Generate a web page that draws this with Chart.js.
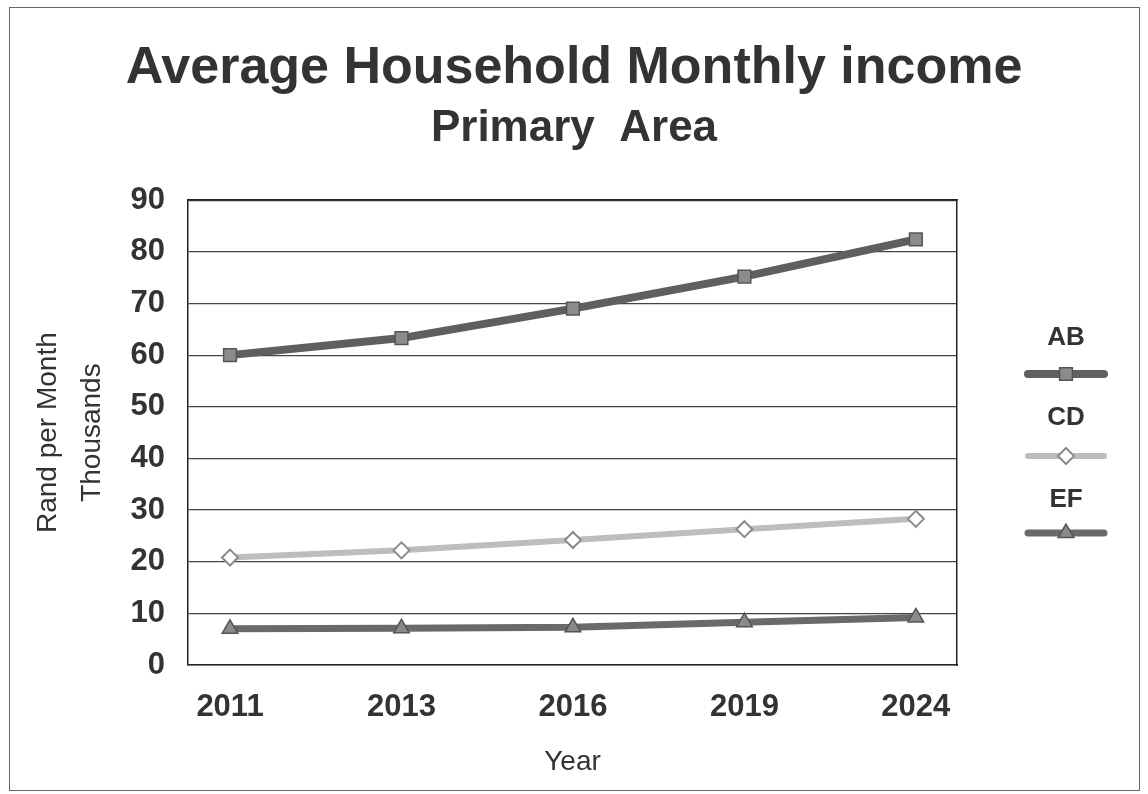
<!DOCTYPE html>
<html>
<head>
<meta charset="utf-8">
<script src="https://cdn.jsdelivr.net/npm/chart.js@4"></script>
<style>
  html, body { margin: 0; padding: 0; background: #fff; }
  #wrap { position: relative; width: 1148px; height: 794px; }
  #frame { position: absolute; left: 9px; top: 7px; width: 1129px; height: 782px; border: 1px solid #666; pointer-events: none; }
  canvas { position: absolute; left: 0; top: 0; }
</style>
</head>
<body>
<div id="wrap">
  <canvas id="incomeChart" width="1148" height="794"></canvas>
  <div id="frame"></div>
</div>
<script>
// categorias y series (miles de rand por mes)
const years = ["2011", "2013", "2016", "2019", "2024"];
const seriesNames = ["AB", "CD", "EF"];
const abValues = [60, 63.3, 69, 75.2, 82.4];
const cdValues = [20.8, 22.2, 24.2, 26.3, 28.3];
const efValues = [7, 7.1, 7.3, 8.3, 9.2];
const yTicks = [0, 10, 20, 30, 40, 50, 60, 70, 80, 90];

const toPoints = vals => vals.map((v, i) => ({ x: i, y: v }));

// leyenda a la derecha: etiqueta encima de la muestra de linea
const sideLegend = {
    id: "sideLegend",
    afterDraw(chart) {
        const ctx = chart.ctx;
        const cx = 1066;
        const labelY = [338, 418, 500];
        const lineY = [374, 456, 533];
        chart.data.datasets.forEach((ds, i) => {
            ctx.save();
            ctx.fillStyle = "#333";
            ctx.font = "bold 26px 'Liberation Sans', Arial, sans-serif";
            ctx.textAlign = "center";
            ctx.textBaseline = "middle";
            ctx.fillText(ds.label, cx, labelY[i]);
            ctx.strokeStyle = ds.borderColor;
            ctx.lineWidth = ds.borderWidth;
            ctx.lineCap = "round";
            ctx.beginPath();
            ctx.moveTo(1028, lineY[i]);
            ctx.lineTo(1104, lineY[i]);
            ctx.stroke();
            ctx.fillStyle = ds.pointBackgroundColor;
            ctx.strokeStyle = ds.pointBorderColor;
            ctx.lineWidth = ds.pointBorderWidth;
            Chart.helpers.drawPoint(ctx, {
                pointStyle: ds.pointStyle,
                radius: ds.pointRadius,
                rotation: 0,
                borderWidth: ds.pointBorderWidth
            }, cx, lineY[i]);
            ctx.restore();
        });
    }
};

document.addEventListener("DOMContentLoaded", function () {
    new Chart(document.getElementById("incomeChart"), {
        type: "line",
        data: {
            datasets: [
                {
                    label: seriesNames[0],
                    data: toPoints(abValues),
                    borderColor: "#5f5f5f",
                    borderWidth: 8,
                    pointStyle: "rect",
                    pointRadius: 9,
                    pointBackgroundColor: "#8c8c8c",
                    pointBorderColor: "#555",
                    pointBorderWidth: 1.5
                },
                {
                    label: seriesNames[1],
                    data: toPoints(cdValues),
                    borderColor: "#bdbdbd",
                    borderWidth: 6,
                    pointStyle: "rectRot",
                    pointRadius: 8,
                    pointBackgroundColor: "#ffffff",
                    pointBorderColor: "#8a8a8a",
                    pointBorderWidth: 2
                },
                {
                    label: seriesNames[2],
                    data: toPoints(efValues),
                    borderColor: "#6a6a6a",
                    borderWidth: 7,
                    pointStyle: "triangle",
                    pointRadius: 9,
                    pointBackgroundColor: "#8a8a8a",
                    pointBorderColor: "#555",
                    pointBorderWidth: 1.5
                }
            ]
        },
        options: {
            responsive: false,
            animation: false,
            layout: { padding: { top: 10, left: 10, right: 10, bottom: 10 } },
            plugins: {
                legend: { display: false },
                tooltip: { enabled: false },
                title: {
                    display: true,
                    text: "Average Household Monthly income",
                    color: "#333",
                    font: { family: "'Liberation Sans', Arial, sans-serif", size: 52, weight: "bold" },
                    padding: { top: 27, bottom: 3 }
                },
                subtitle: {
                    display: true,
                    text: "Primary  Area",
                    color: "#333",
                    font: { family: "'Liberation Sans', Arial, sans-serif", size: 44, weight: "bold" },
                    padding: { top: 0, bottom: 45 }
                }
            },
            scales: {
                x: {
                    type: "linear",
                    min: -0.245,
                    max: 4.24,
                    afterBuildTicks: axis => { axis.ticks = years.map((y, i) => ({ value: i })); },
                    afterFit: axis => { axis.height = 119; },
                    ticks: {
                        callback: v => years[v],
                        color: "#333",
                        padding: 24,
                        maxRotation: 0,
                        font: { family: "'Liberation Sans', Arial, sans-serif", size: 31, weight: "bold" }
                    },
                    grid: { display: false, drawTicks: false },
                    border: { color: "#222", width: 1.5 },
                    title: {
                        display: true,
                        text: "Year",
                        color: "#333",
                        padding: { top: 0, bottom: 5 },
                        font: { family: "'Liberation Sans', Arial, sans-serif", size: 28 }
                    }
                },
                y: {
                    min: 0,
                    max: 90,
                    afterBuildTicks: axis => { axis.ticks = yTicks.map(v => ({ value: v })); },
                    afterFit: axis => { axis.width = 178; },
                    ticks: {
                        color: "#333",
                        padding: 23,
                        font: { family: "'Liberation Sans', Arial, sans-serif", size: 31, weight: "bold" }
                    },
                    grid: { color: "#444", lineWidth: 1.2, drawTicks: false },
                    border: { color: "#222", width: 1.5 },
                    title: {
                        display: true,
                        text: ["Rand per Month", "Thousands"],
                        color: "#333",
                        padding: { top: 17, bottom: 0 },
                        font: { family: "'Liberation Sans', Arial, sans-serif", size: 28, lineHeight: 1.55 }
                    }
                },
                x2: {
                    type: "linear",
                    position: "top",
                    display: true,
                    min: 0, max: 1,
                    ticks: { display: false },
                    grid: { display: false, drawTicks: false },
                    border: { color: "#222", width: 1.5 },
                    afterFit: axis => { axis.height = 0; }
                },
                y2: {
                    position: "right",
                    display: true,
                    min: 0, max: 1,
                    ticks: { display: false },
                    grid: { display: false, drawTicks: false },
                    border: { color: "#222", width: 1.5 },
                    // deja sitio para la leyenda lateral
                    afterFit: axis => { axis.width = 181; }
                }
            }
        },
        plugins: [sideLegend]
    });
});
</script>
</body>
</html>
